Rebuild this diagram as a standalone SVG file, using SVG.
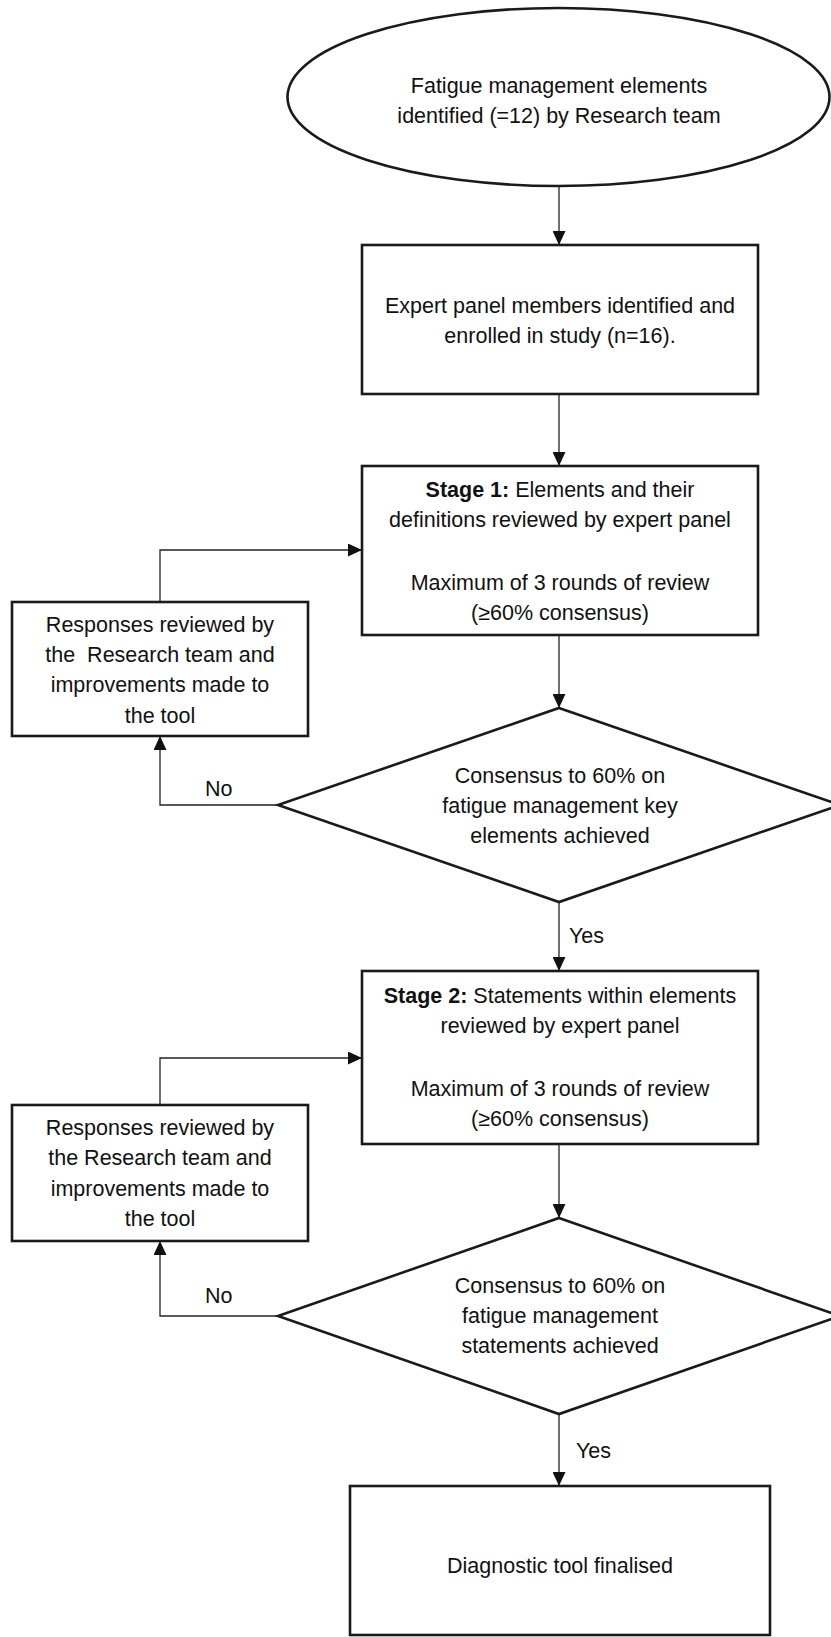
<svg xmlns="http://www.w3.org/2000/svg" width="831" height="1637" viewBox="0 0 831 1637">
<defs>
<style>
.shape{fill:#fff;stroke:#1a1a1a;stroke-width:2.6}
.conn{fill:none;stroke:#222;stroke-width:1.3}
.t{font-family:"Liberation Sans",Arial,sans-serif;font-size:21.5px;fill:#111;text-anchor:middle}
.b{font-weight:bold}
.lbl{font-family:"Liberation Sans",Arial,sans-serif;font-size:21.5px;fill:#111}
</style>
<marker id="ah" markerUnits="userSpaceOnUse" markerWidth="14" markerHeight="13" refX="14" refY="6.5" orient="auto">
<path d="M0,0 L14,6.5 L0,13 z" fill="#111"/>
</marker>
</defs>
<rect width="831" height="1637" fill="#fff"/>
<g id="connectors">
<line class="conn" x1="559" y1="186" x2="559" y2="245" marker-end="url(#ah)"/>
<line class="conn" x1="559" y1="394" x2="559" y2="466" marker-end="url(#ah)"/>
<line class="conn" x1="559" y1="635" x2="559" y2="708" marker-end="url(#ah)"/>
<line class="conn" x1="559" y1="902" x2="559" y2="971" marker-end="url(#ah)"/>
<line class="conn" x1="559" y1="1144" x2="559" y2="1218" marker-end="url(#ah)"/>
<line class="conn" x1="559" y1="1414" x2="559" y2="1486" marker-end="url(#ah)"/>
<polyline class="conn" points="160,602 160,550 362,550" marker-end="url(#ah)"/>
<polyline class="conn" points="278,805 160,805 160,736" marker-end="url(#ah)"/>
<polyline class="conn" points="160,1105 160,1058 362,1058" marker-end="url(#ah)"/>
<polyline class="conn" points="278,1316 160,1316 160,1241" marker-end="url(#ah)"/>
<text class="lbl" x="205" y="796">No</text>
<text class="lbl" x="205" y="1303">No</text>
<text class="lbl" x="569" y="943">Yes</text>
<text class="lbl" x="576" y="1458">Yes</text>
</g>
<g id="start">
<ellipse class="shape" cx="558.5" cy="97" rx="271" ry="89"/>
<text class="t" x="559" y="93">Fatigue management elements</text>
<text class="t" x="559" y="123">identified (=12) by Research team</text>
</g>
<g id="panel">
<rect class="shape" x="362" y="245" width="396" height="149"/>
<text class="t" x="560" y="313">Expert panel members identified and</text>
<text class="t" x="560" y="343">enrolled in study (n=16).</text>
</g>
<g id="stage1">
<rect class="shape" x="362" y="466" width="396" height="169"/>
<text class="t" x="560" y="497"><tspan class="b">Stage 1:</tspan> Elements and their</text>
<text class="t" x="560" y="527">definitions reviewed by expert panel</text>
<text class="t" x="560" y="590">Maximum of 3 rounds of review</text>
<text class="t" x="560" y="620">(≥60% consensus)</text>
</g>
<g id="review1">
<rect class="shape" x="12" y="602" width="296" height="134"/>
<text class="t" x="160" y="632">Responses reviewed by</text>
<text class="t" x="160" y="662" xml:space="preserve">the  Research team and</text>
<text class="t" x="160" y="692">improvements made to</text>
<text class="t" x="160" y="723">the tool</text>
</g>
<g id="decision1">
<polygon class="shape" points="559,708 840,805 559,902 278,805"/>
<text class="t" x="560" y="783">Consensus to 60% on</text>
<text class="t" x="560" y="813">fatigue management key</text>
<text class="t" x="560" y="843">elements achieved</text>
</g>
<g id="stage2">
<rect class="shape" x="362" y="971" width="396" height="173"/>
<text class="t" x="560" y="1003"><tspan class="b">Stage 2:</tspan> Statements within elements</text>
<text class="t" x="560" y="1033">reviewed by expert panel</text>
<text class="t" x="560" y="1096">Maximum of 3 rounds of review</text>
<text class="t" x="560" y="1126">(≥60% consensus)</text>
</g>
<g id="review2">
<rect class="shape" x="12" y="1105" width="296" height="136"/>
<text class="t" x="160" y="1135">Responses reviewed by</text>
<text class="t" x="160" y="1165">the Research team and</text>
<text class="t" x="160" y="1196">improvements made to</text>
<text class="t" x="160" y="1226">the tool</text>
</g>
<g id="decision2">
<polygon class="shape" points="559,1218 840,1316 559,1414 278,1316"/>
<text class="t" x="560" y="1293">Consensus to 60% on</text>
<text class="t" x="560" y="1323">fatigue management</text>
<text class="t" x="560" y="1353">statements achieved</text>
</g>
<g id="final">
<rect class="shape" x="350" y="1486" width="420" height="149"/>
<text class="t" x="560" y="1573">Diagnostic tool finalised</text>
</g>
</svg>
